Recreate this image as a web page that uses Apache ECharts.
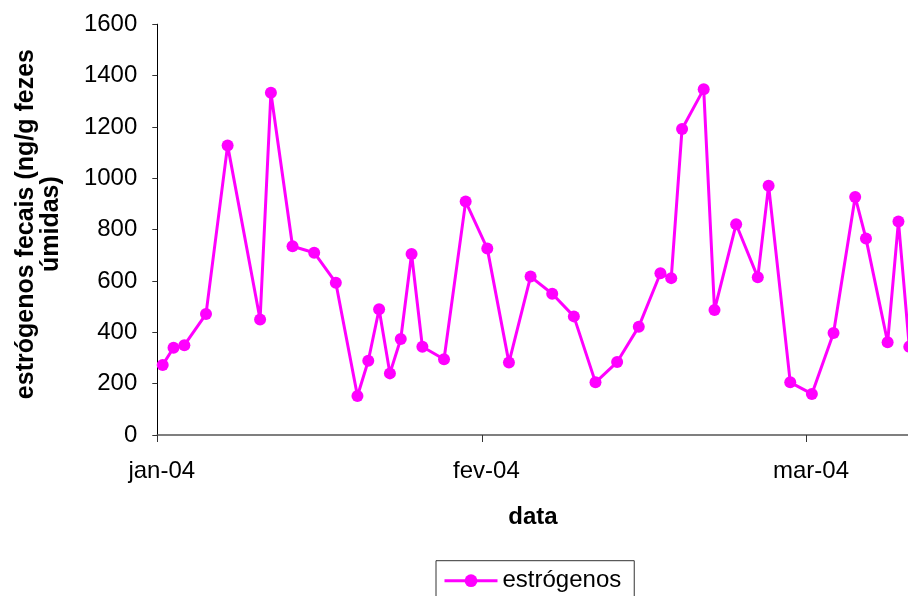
<!DOCTYPE html>
<html>
<head>
<meta charset="utf-8">
<script src="https://cdn.jsdelivr.net/npm/echarts@6/dist/echarts.min.js"></script>
<style>
html,body{margin:0;padding:0;background:#fff;}
#chart{width:908px;height:596px;}
</style>
</head>
<body>
<div id="chart"></div>
<script>
// Day offsets of each sample from the first sample (axis starts half a day earlier)
var sampleDays = [0,1,2,4,6,9,10,12,14,16,18,19,20,21,22,23,24,26,28,30,32,34,36,38,40,42,44,46,47,48,50,51,53,55,56,58,60,62,64,65,67,68,69];
// estrógenos fecais (ng/g fezes úmidas)
var estrogenos = [273,340,350,471,1128,450,1333,735,710,593,152,289,490,240,374,705,344,295,909,726,282,617,550,462,205,284,422,630,611,1192,1347,487,821,614,971,205,160,397,927,765,361,832,344];
var xTickLabels = ['jan-04','fev-04','mar-04'];
var yTicks = [0,200,400,600,800,1000,1200,1400,1600];

var FONT = "'Liberation Sans', Arial, sans-serif";
var chart = echarts.init(document.getElementById('chart'), null, {renderer:'canvas'});
var seriesData = sampleDays.map(function(d,i){ return [d + 0.5, estrogenos[i]]; });

chart.setOption({
  animation:false,
  backgroundColor:'#ffffff',
  grid:{left:157.3, top:24.2, bottom:161, right:-17.5, containLabel:false, outerBoundsMode:'none'},
  xAxis:{
    type:'value', min:0, max:71, interval:30,
    name:'data', nameLocation:'middle', nameGap:70,
    nameTextStyle:{fontFamily:FONT, fontSize:24, fontWeight:'bold', color:'#000', padding:[0,17,0,0]},
    axisLine:{show:true, onZero:false, lineStyle:{color:'#555', width:1.5}},
    axisTick:{show:true, inside:false, length:7, lineStyle:{color:'#333', width:1}},
    axisLabel:{fontFamily:FONT, fontSize:24, color:'#000', margin:24, padding:[0,0,0,9], showMaxLabel:false,
      formatter:function(v){ if (v % 30 !== 0) return ''; return xTickLabels[v/30] || ''; }},
    splitLine:{show:false}
  },
  yAxis:{
    type:'value', min:yTicks[0], max:yTicks[yTicks.length-1], interval:200,
    name:'estrógenos fecais (ng/g fezes\númidas)', nameLocation:'middle', nameGap:94, nameRotate:90,
    nameTextStyle:{fontFamily:FONT, fontSize:25, fontWeight:'bold', color:'#000', lineHeight:25, align:'center', padding:[0,0,0,11]},
    axisLine:{show:true, lineStyle:{color:'#000', width:1}},
    axisTick:{show:true, inside:false, length:5, lineStyle:{color:'#333', width:1}},
    axisLabel:{fontFamily:FONT, fontSize:24, color:'#000', margin:20,
      formatter:function(v){ return String(v); }},
    splitLine:{show:false}
  },
  legend:{
    data:['estrógenos'], left:436, top:560.7, orient:'horizontal',
    borderColor:'#333', borderWidth:1, padding:[8,13,8,7],
    itemWidth:53, itemHeight:16,
    lineStyle:{width:3},
    textStyle:{fontFamily:FONT, fontSize:24, color:'#000'}
  },
  series:[{
    name:'estrógenos', type:'line', data:seriesData,
    symbol:'circle', symbolSize:12, showAllSymbol:true, clip:false,
    lineStyle:{color:'#ff00ff', width:3},
    itemStyle:{color:'#ff00ff'}
  }]
});
</script>
</body>
</html>
